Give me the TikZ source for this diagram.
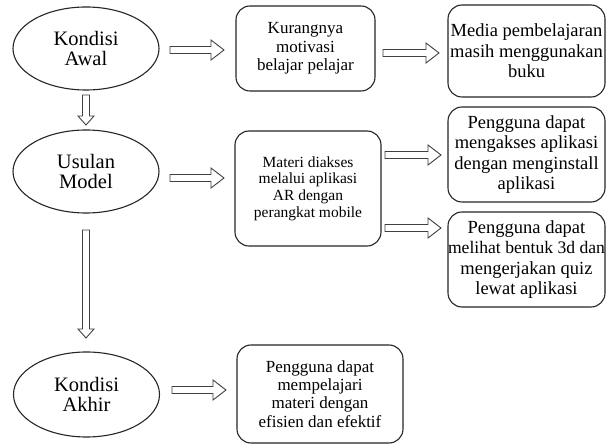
\documentclass[tikz,border=0pt]{standalone}
\usepackage{fontspec}
\setmainfont{Liberation Serif}
\newfontfamily\tnr{Liberation Serif}
\usetikzlibrary{shapes.geometric,calc}
\begin{document}
\begin{tikzpicture}[x=1pt,y=-1pt,
  every node/.style={inner sep=0pt, outer sep=0pt},
  ell/.style={draw=black!85, line width=1.1pt, ellipse, minimum width=146pt, minimum height=83pt, align=center, text=black, font=\tnr\fontsize{20.5}{20.5}\selectfont},
  rbox/.style={draw=black!85, line width=1.1pt, rounded corners=14pt, align=center, text=black, font=\tnr\fontsize{17}{18.3}\selectfont},
  rboxr/.style={rbox, font=\tnr\fontsize{18.5}{20.5}\selectfont},
  harr/.style={draw=black!75, line width=0.9pt, fill=white, to path={let \p1=(\tikztostart), \p2=(\tikztotarget) in (\x1,\y1-3.5pt) -- (\x2-13pt,\y1-3.5pt) -- (\x2-13pt,\y1-10pt) -- (\x2,\y1) -- (\x2-13pt,\y1+10pt) -- (\x2-13pt,\y1+3.5pt) -- (\x1,\y1+3.5pt) -- cycle}},
  varr/.style={draw=black!75, line width=0.9pt, fill=white, to path={let \p1=(\tikztostart), \p2=(\tikztotarget) in (\x1-3.5pt,\y1) -- (\x1-3.5pt,\y2+9pt) -- (\x1-8pt,\y2+9pt) -- (\x1,\y2) -- (\x1+8pt,\y2+9pt) -- (\x1+3.5pt,\y2+9pt) -- (\x1+3.5pt,\y1) -- cycle}}
]
\useasboundingbox[fill=white] (0,0) rectangle (606,446);

% ellipses
\node[ell] (awal) at (86,48.5) {Kondisi\\Awal};
\node[ell] (usulan) at (86,171.5) {Usulan\\Model};
\node[ell, minimum height=85pt] (akhir) at (86.5,394.5) {Kondisi\\Akhir};

% boxes
\node[rbox, minimum width=139pt, minimum height=85pt] (A) at (305.5,48.5) {Kurangnya\\motivasi\\belajar pelajar};
\node[rboxr, minimum width=157pt, minimum height=92pt] (B) at (526.5,51) {Media pembelajaran\\masih menggunakan\\buku};
\node[rboxr, minimum width=157pt, minimum height=95pt] (C) at (526.5,154.5) {Pengguna dapat\\mengakses aplikasi\\dengan menginstall\\aplikasi};
\node[rbox, minimum width=146pt, minimum height=115pt, font=\tnr\fontsize{15.5}{16.7}\selectfont] (D) at (308,188.5) {Materi diakses\\melalui aplikasi\\AR dengan\\perangkat mobile};
\node[rboxr, minimum width=157pt, minimum height=95pt] (E) at (526.5,259.5) {Pengguna dapat\\\makebox[140pt][c]{\fontsize{17.6}{20.5}\selectfont melihat bentuk 3d dan}\\mengerjakan quiz\\lewat aplikasi};
\node[rbox, minimum width=166pt, minimum height=98pt] (F) at (320,394) {Pengguna dapat\\mempelajari\\materi dengan\\efisien dan efektif};

% arrow end points
\coordinate (a1s) at (170,50);  \coordinate (a1e) at (224,50);
\coordinate (a2s) at (383,53);  \coordinate (a2e) at (439,53);
\coordinate (a3s) at (170,178); \coordinate (a3e) at (224,178);
\coordinate (a4s) at (385,155); \coordinate (a4e) at (441,155);
\coordinate (a5s) at (385,228); \coordinate (a5e) at (441,228);
\coordinate (a6s) at (172,390); \coordinate (a6e) at (226,390);
\coordinate (v1s) at (86,95);   \coordinate (v1e) at (86,125);
\coordinate (v2s) at (86,230);  \coordinate (v2e) at (86,338);

\draw[harr] (a1s) to (a1e);
\draw[harr] (a2s) to (a2e);
\draw[harr] (a3s) to (a3e);
\draw[harr] (a4s) to (a4e);
\draw[harr] (a5s) to (a5e);
\draw[harr] (a6s) to (a6e);
\draw[varr] (v1s) to (v1e);
\draw[varr] (v2s) to (v2e);
\end{tikzpicture}
\end{document}
